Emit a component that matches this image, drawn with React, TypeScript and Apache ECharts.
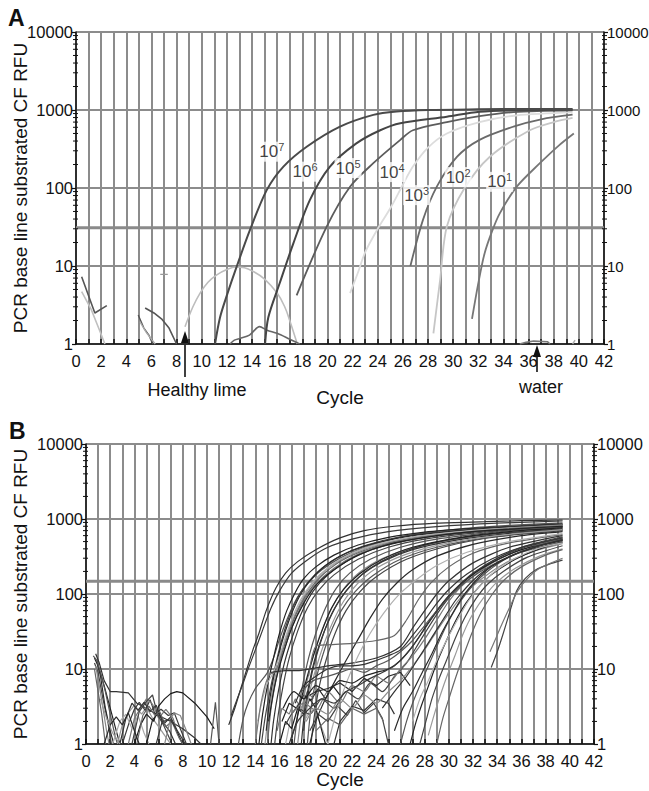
import React, { useEffect, useRef } from 'react';
import * as echarts from 'echarts';

const FONT = '"Liberation Sans", Arial, sans-serif';

// ---------- Panel A data (cycle, RFU) ----------
const A_1e7 = [[11.06,1],[11.46,2.2],[12,4.2],[12.78,9.8],[13.84,29],[15.17,94],[16.5,188],[18.35,338],[21,612],[23.65,866],[25.5,955],[28,1000],[32,1020],[36,1030],[39.5,1030]];
const A_1e6 = [[15.04,1],[15.3,2.2],[16.2,6],[17.29,19.5],[18.6,70],[20.2,188],[22.3,373],[24.2,550],[25.8,676],[29.5,820],[32.1,950],[35,990],[39.5,1010]];
const A_1e5 = [[17.55,4.2],[19.94,32],[21.8,104],[23.65,208],[25.8,414],[26.8,550],[29.5,700],[32.1,835],[34.8,940],[39.5,990]];
const A_1e4 = [[21.8,4.5],[22.4,8],[23,15],[24,30],[25,55],[26,110],[26.8,188],[28,330],[29.5,500],[32.1,700],[35,850],[39.5,930]];
const A_1e3 = [[26.6,10],[27.6,39],[28.7,104],[30.3,250],[32.1,414],[34.8,612],[37,760],[39.5,870]];
const A_1e2 = [[28.43,1.37],[28.96,6.6],[29.5,32],[30.9,99],[32.9,250],[36.1,550],[38,700],[39.5,790]];
const A_1e1 = [[31.5,2.1],[32,6],[32.5,14.5],[33.1,28],[33.7,47],[35.06,104],[36.9,208],[38.4,350],[39.6,500]];
const A_noise1 = [[0.45,7.3],[1.5,2.5],[2.45,3.1]];
const A_noise2 = [[0.45,4.7],[1.2,2.8],[1.8,1.6],[2.3,1]];
const A_noise3 = [[4.95,2.35],[5.4,1.6],[5.8,1.3],[6.1,1]];
const A_noise4 = [[5.1,1.9],[5.6,1.4],[6.3,1]];
const A_noise5 = [[5.5,2.9],[6.2,2.5],[6.8,2.1],[7.4,1.6],[8,1]];
const A_noise6 = [[6.7,7.8],[7.3,7.8]];
const A_healthy = [[8.67,1.66],[9.3,3],[9.87,4.5],[10.5,6.2],[11.2,7.7],[12,9],[12.7,9.7],[13.4,9.5],[14.1,8.5],[15,6.8],[16,4.5],[16.6,3],[17,2],[17.6,1]];
const A_bump = [[12.25,1],[12.6,1.12],[13.05,1.18],[13.8,1.3],[14.6,1.67],[15.2,1.5],[16,1.37],[17,1.15],[17.8,1]];
const A_water = [[35.3,1],[35.8,1.05],[36.4,1.09],[37.5,1.07],[37.7,1]];
const A_tiny = [[39.5,1],[39.7,1.12]];
const A_threshold = 31;
const A_labels = [[15.57,292,'7'],[18.22,162,'6'],[21.64,180,'5'],[25.14,160,'4'],[27.1,81,'3'],[30.4,138,'2'],[33.7,120,'1']];

// ---------- Panel B data ----------
const B_noise = [
  [[0.7,14],[1,11],[1.5,6],[2,3],[2.5,1.5],[2.8,1]],
  [[0.7,12],[1,9],[1.4,4],[1.8,2],[2.1,1]],
  [[0.8,16],[1.1,12],[1.5,7],[2,5],[2.5,5],[3.5,4.8],[4.2,3.5],[5,3],[6,2.4],[7,2],[8,1.6],[9,1.2],[9.5,1]],
  [[0.7,10],[1,5],[1.3,2.5],[1.6,1]],
  [[0.9,13],[1.2,8],[1.6,3],[2,1.5],[2.3,1]],
  [[0.8,11],[1.1,6],[1.4,3],[1.7,1.5],[1.9,1]],
  [[0.6,15],[0.9,13],[1.2,9],[1.6,5],[2,2.5],[2.4,1.3],[2.6,1]],
  [[2.6,1],[3,1.8],[3.5,2.6],[4,3.3],[4.6,2.5],[5,3.1],[5.5,2.2],[6,1.7],[6.5,1.3],[7,1]],
  [[3,1],[3.6,2],[4,2.9],[4.4,3.6],[4.9,2.8],[5.3,3.9],[5.7,2.5],[6.2,2.9],[6.8,2.4],[7.3,2.6],[7.8,1.6],[8.3,1]],
  [[3.5,1],[4,2.2],[4.5,3],[5,4],[5.5,3.4],[6,2.2],[6.6,2.9],[7.2,2.2],[7.7,1.2],[8,1]],
  [[2.2,1],[2.8,2],[3.3,2.5],[3.8,1.6],[4.3,2.4],[4.8,1.4],[5.2,1]],
  [[4,1],[4.5,1.8],[5,2.5],[5.6,2],[6,3.2],[6.5,4],[7,4.7],[7.5,5],[8,4.8],[9,3.5],[10,2.3],[10.6,1.6]],
  [[5,1],[5.5,2.1],[6,2.6],[6.5,1.9],[7,2.3],[7.5,1.5],[8,1]],
  [[3.8,1],[4.4,2.7],[5,3.7],[5.5,4.5],[5.9,2.5],[6.4,1.8],[7,1.1]],
  [[2.8,1],[3.3,2.2],[3.8,3.5],[4.3,2.8],[4.8,3.6],[5.3,2.7],[5.8,3.3],[6.3,2],[6.9,1.5],[7.4,1]],
  [[4.2,1],[4.7,2.4],[5.2,3.2],[5.7,2.4],[6.1,2.7],[6.6,1.7],[7.1,2],[7.6,1.3],[8,1]],
  [[1.5,1],[2,1.8],[2.5,2.3],[3,1.8],[3.5,2.6],[4,1.5],[4.4,1]],
  [[6.5,1],[7,2.2],[7.3,2.6],[7.8,2.4],[8.3,1.5],[8.7,1]],
  [[10.3,1],[10.7,3.6],[11,1]],
  [[1.2,4],[1.7,2.2],[2.2,1.4],[2.8,1]],
  [[5.8,1],[6.3,2],[7,2.1],[7.8,1.3],[8.2,1]],
  [[15.8,1.5],[16.2,3],[16.8,2.5],[17.3,4],[17.8,3],[18.3,5],[18.8,4]],
  [[16.5,1],[17,2.5],[17.6,3.5],[18.2,2.2],[18.8,3.5],[19.4,1.8],[20,1]],
  [[16,1],[16.5,2],[17,1.6],[17.5,3],[18,2.5],[18.5,4],[19,3],[19.5,1.5],[19.8,1]],
  [[16.2,2],[16.8,3.5],[17.4,3],[18,4.5],[18.6,3.8],[19.2,5.5],[19.8,4],[20.4,6],[21,4.5]],
  [[18.5,1.5],[19.2,2.5],[20,2],[20.8,3.2],[21.6,2.4],[22.3,3.8],[23,2.6],[23.8,3.5],[24.5,2.2],[25,1]],
  [[20.5,1],[21,2],[22,3.2],[23,2.8],[24,4],[25,3.5],[25.5,2.5]],
  [[19,1.5],[20,2.2],[21,1.8],[22,3],[23,2.5],[24,3],[24.6,2]],
  [[18,4],[19,5],[20,5.5],[21,6.5],[22,5],[23,7.5],[24,6],[25,8],[26,9],[26.8,6]],
];
const B_early = [
  [[11.8,1.8],[12.3,3],[12.8,5.5],[13.3,10],[13.8,18],[14.3,30],[14.9,60],[15.7,120],[16.5,190],[17.5,270],[19,390],[21,560],[23,700],[25.5,800],[29,880],[33,920],[36,950],[39.4,970]],
  [[12,2.4],[12.5,4],[13,6.5],[13.5,11],[14,18],[14.6,33],[15.3,65],[16,110],[17,190],[18.5,300],[20,420],[22,540],[25,680],[29,790],[34,880],[39.4,940]],
  [[12.6,1],[13,2.2],[13.4,3.5],[14,5.5],[14.5,7],[15,9],[15.5,14],[16,25],[16.6,45],[17.3,80],[18,120],[19.5,210],[21.5,330],[24,470],[27,620],[31,740],[35,820],[39.4,890]],
];
const B_main = [
  [[14.3,1],[14.6,2.5],[15,6],[15.5,14],[16,30],[16.6,60],[17.3,105],[18,160],[19,230],[20.5,330],[22.5,450],[25,570],[28,670],[32,750],[36,810],[39.4,860]],
  [[14.5,1],[14.8,2.2],[15.2,5],[15.6,10],[16.1,22],[16.8,50],[17.5,90],[18.3,140],[19.5,220],[21,320],[23,440],[26,580],[30,690],[34,770],[39.4,850]],
  [[14.8,1],[15.1,2.5],[15.4,5],[15.8,10],[16.3,20],[17,42],[17.8,80],[18.7,135],[20,220],[22,340],[24.5,470],[28,600],[32,700],[36,770],[39.4,820]],
  [[14.9,1.5],[15.2,4],[15.6,9],[16.1,20],[16.8,45],[17.6,90],[18.5,150],[19.8,240],[21.5,350],[24,480],[27,600],[31,700],[35,780],[39.4,840]],
  [[15,1],[15.3,3],[15.7,7],[16.2,16],[16.9,35],[17.7,70],[18.6,120],[19.8,195],[21.5,300],[24,430],[27,560],[31,670],[35,750],[39.4,810]],
  [[15.3,1],[15.5,2],[15.9,5],[16.4,12],[17.1,28],[17.9,60],[18.8,110],[20,180],[22,300],[24.5,430],[28,570],[32,670],[36,740],[39.4,790]],
  [[14.2,2],[14.6,4],[15,6.5],[15.5,9],[16,15],[16.6,30],[17.3,60],[18.2,110],[19.3,180],[21,290],[23,410],[26,540],[30,660],[35,760],[39.4,830]],
  [[15.6,1],[15.9,2.5],[16.3,6],[16.8,14],[17.5,32],[18.3,65],[19.2,110],[20.5,180],[22.5,290],[25,420],[28,540],[32,650],[36,730],[39.4,790]],
  [[14,1],[14.4,3],[14.8,6],[15.2,8.5],[15.6,9],[16.2,15],[17,35],[17.9,75],[18.9,130],[20.5,220],[22.5,340],[25,470],[29,610],[34,730],[39.4,820]],
  [[15.1,2],[15.6,6],[16.2,14],[17,35],[18,75],[19,130],[20.5,210],[22.5,330],[25,460],[29,600],[33,700],[39.4,800]],
];
const B_second = [
  [[17.2,1],[17.5,2.5],[17.9,6],[18.4,14],[19,30],[19.8,65],[20.7,120],[21.8,190],[23.5,290],[26,420],[29,540],[33,650],[36.5,720],[39.4,770]],
  [[17.5,1],[17.8,2.5],[18.2,6],[18.7,13],[19.3,27],[20.1,55],[21,100],[22.2,170],[24,270],[26.5,390],[30,520],[34,640],[39.4,740]],
  [[17.8,1],[18.1,3],[18.5,7],[19,15],[19.7,32],[20.5,62],[21.5,110],[22.8,180],[24.5,270],[27,390],[30.5,520],[34.5,630],[39.4,720]],
  [[18,1.5],[18.3,4],[18.7,9],[19.2,18],[19.9,38],[20.8,75],[21.9,130],[23.3,210],[25.5,330],[28.5,470],[32,590],[36,680],[39.4,740]],
  [[18.3,1],[18.6,3],[19,7],[19.5,14],[20.2,30],[21.1,60],[22.2,105],[23.7,175],[26,290],[29,420],[33,560],[37,660],[39.4,710]],
  [[17,1.2],[17.4,2],[17.8,4],[18.3,8],[18.8,15],[19.5,32],[20.3,65],[21.3,115],[22.6,185],[24.5,290],[27,420],[31,570],[35,680],[39.4,760]],
  [[18.6,1],[18.9,2.5],[19.3,6],[19.9,14],[20.6,30],[21.5,60],[22.6,105],[24,170],[26.5,290],[30,440],[34,580],[39.4,700]],
  [[18.1,2],[18.5,5],[19,10],[19.6,20],[20.4,42],[21.3,80],[22.4,135],[24,220],[26.5,340],[30,480],[34,600],[39.4,720]],
];
const B_mid = [
  [[18.5,1],[19,2],[19.8,4],[20.6,7],[21.5,13],[22.5,25],[23.5,48],[24.5,85],[25.7,140],[27,210],[29,320],[32,460],[36,600],[39.4,680]],
  [[18.4,8],[19,20],[20,21],[22,22],[24,24],[25.5,28],[26.5,45],[27.5,85],[28.5,140],[30,230],[32,350],[35,480],[39.4,620]],
  [[15.3,9],[16.5,9.5],[17.5,9.5],[18.5,10],[20,11],[22,12],[24,14],[26,20],[27,35],[28,60],[29,100],[30,150],[32,260],[35,420],[39.4,600]],
  [[20,1],[20.8,3],[21.6,7],[22.5,15],[23.5,30],[24.6,55],[25.8,95],[27.2,150],[29,240],[31.5,360],[35,500],[39.4,640]],
];
const B_flat = [
  [[16.5,1.8],[17.5,3],[18.5,2.5],[19.5,4],[20.5,3],[21.5,5],[22.5,4],[23.5,6.5],[24.5,5],[25.5,8],[26.5,12],[27.5,22],[28.5,40],[29.5,70],[30.5,110],[31.7,170],[33,240],[35,360],[37,470],[39.4,580]],
  [[17,2.5],[18,3.5],[19,2.8],[20,5],[21,3.5],[22,6],[23,5],[24,8],[25,6.5],[26,10],[27,15],[28,25],[29,45],[30,80],[31,125],[32.5,200],[34.5,310],[37,440],[39.4,540]],
  [[16.3,3],[17.2,5],[18,4],[19,6],[20,5],[21,7],[22,6.5],[23,8],[24,9],[25,10],[26,13],[27,20],[28,35],[29,60],[30,95],[31.5,160],[33.5,260],[36,390],[39.4,520]],
  [[17.8,5],[18.8,7],[20,8],[21,9],[22,10],[23,9],[24,11],[25,13],[26,17],[27,24],[28,38],[29,60],[30,90],[31.5,150],[33.5,240],[36,360],[39.4,500]],
  [[18.2,2],[19,3],[20,2.5],[21,4],[22,3],[23,4.5],[24,3.5],[25,5],[26,7],[27,11],[28,18],[29,32],[30,55],[31,90],[32.5,150],[34.5,250],[37,370],[39.4,470]],
  [[17.3,3.5],[18,6],[19,8],[20,10],[21,11],[22,11],[23,11.5],[24,13],[25,15],[26,18],[27,28],[28,45],[29,75],[30,115],[31.5,185],[33.5,290],[36,420],[39.4,560]],
  [[16.8,1],[17.5,2],[18.5,3],[19.5,4],[20.5,3.5],[21.5,5],[22.5,6],[23.5,7.5],[24.5,9],[25.5,11],[26.5,16],[27.5,26],[28.5,45],[29.5,75],[30.5,115],[32,190],[34,300],[36.5,430],[39.4,560]],
];
const B_late = [
  [[26,1],[26.5,2],[27,3.5],[27.6,6],[28.3,11],[29,20],[29.8,38],[30.6,65],[31.5,105],[32.5,160],[34,250],[36,370],[39.4,540]],
  [[26.8,1],[27.3,2],[27.8,3.5],[28.4,6.5],[29,12],[29.7,22],[30.5,42],[31.4,75],[32.4,120],[33.5,180],[35.5,290],[37.5,400],[39.4,490]],
  [[27.6,1],[28.1,2],[28.6,4],[29.2,7.5],[29.8,13],[30.5,25],[31.3,48],[32.2,85],[33.2,135],[34.5,200],[36.5,310],[39.4,440]],
  [[28.3,1.3],[28.8,2.5],[29.3,4.5],[29.9,8.5],[30.5,15],[31.2,30],[32,55],[33,95],[34,145],[35.5,220],[37.5,320],[39.4,400]],
  [[25.5,1.5],[26.2,3],[27,5],[27.8,9],[28.6,16],[29.4,30],[30.3,55],[31.2,95],[32.2,150],[33.5,230],[35.5,340],[38,460],[39.4,520]],
  [[29,1],[29.5,2.2],[30,4],[30.6,8],[31.2,15],[31.9,30],[32.7,58],[33.6,100],[34.6,155],[36,230],[38,330],[39.4,390]],
  [[24.5,3],[25.5,5],[26.5,8],[27.5,14],[28.5,25],[29.5,45],[30.5,80],[31.5,125],[32.7,190],[34.5,290],[37,420],[39.4,530]],
  [[27,2],[27.6,4],[28.3,7],[29,13],[29.8,24],[30.7,45],[31.6,80],[32.6,130],[33.8,200],[35.5,300],[37.5,410],[39.4,480]],
  [[33.5,10.5],[34,17],[34.5,30],[35,55],[35.6,110],[36.3,160],[37.2,210],[38.3,250],[39.4,283]],
  [[33.4,17],[33.9,26],[34.4,40],[35,65],[35.7,110],[36.5,160],[37.5,220],[39.4,300]],
];
const B_threshold = 148;

const minorTickValues: number[] = [];
[1, 10, 100, 1000].forEach((d) => { for (let k = 2; k <= 9; k++) minorTickValues.push(k * d); });

const NOISE_GRAYS = ['#222', '#444', '#333', '#666', '#2a2a2a', '#888', '#555', '#999', '#3a3a3a', '#777', '#aaa', '#1a1a1a'];
const CURVE_GRAYS = ['#333', '#3a3a3a', '#555', '#222', '#444', '#999', '#2a2a2a', '#666', '#333', '#b0b0b0', '#444', '#777', '#222', '#555', '#8a8a8a'];

function yAxis(gridIndex: number, position: 'left' | 'right', fontSize: number, name?: string, nameGap?: number) {
  return {
    type: 'log', logBase: 10, min: 1, max: 10000, gridIndex, position,
    name: name || '', nameLocation: 'middle', nameGap: nameGap || 0, nameMoveOverlap: false,
    nameTextStyle: { fontSize: 19, color: '#111', fontFamily: FONT },
    axisLine: { show: true, lineStyle: { color: '#111', width: 1.5 } },
    axisTick: { show: true, length: 4, lineStyle: { color: '#111', width: 1.2 } },
    axisLabel: { fontSize, color: '#111', margin: 3, fontFamily: FONT, formatter: (v: number) => String(Math.round(v)) },
    splitLine: { show: position === 'left', lineStyle: { color: '#8c8c8c', width: 2 } },
  };
}

function xAxis(gridIndex: number, nameGap: number) {
  return {
    type: 'value', min: 0, max: 42, interval: 1, gridIndex,
    name: 'Cycle', nameLocation: 'middle', nameGap, nameMoveOverlap: false,
    nameTextStyle: { fontSize: 19, color: '#111', fontFamily: FONT },
    axisLine: { show: true, lineStyle: { color: '#111', width: 1.5 } },
    axisTick: { show: true, inside: true, length: 5, lineStyle: { color: '#111', width: 1.5 } },
    axisLabel: { fontSize: 16.5, color: '#111', margin: 8, fontFamily: FONT, formatter: (v: number) => (v % 2 === 0 ? String(v) : '') },
    splitLine: { show: true, lineStyle: { color: '#8c8c8c', width: 2 } },
  };
}

function minorTicks(idx: number) {
  return {
    type: 'custom', xAxisIndex: idx, yAxisIndex: idx * 2, silent: true, clip: false, z: 5,
    data: minorTickValues.map((v) => [0, v]),
    renderItem: (_p: any, api: any) => {
      const v = api.value(1);
      const l = api.coord([0, v]);
      const r = api.coord([42, v]);
      const st = { stroke: '#111', lineWidth: 1 };
      return {
        type: 'group',
        children: [
          { type: 'line', shape: { x1: l[0] - 3, y1: l[1], x2: l[0] + 2, y2: l[1] }, style: st },
          { type: 'line', shape: { x1: r[0] - 2, y1: r[1], x2: r[0] + 3, y2: r[1] }, style: st },
        ],
      };
    },
  };
}

function line(data: number[][], color: string, width: number, xi: number, smooth: number | boolean = false) {
  return {
    type: 'line', data, xAxisIndex: xi, yAxisIndex: xi * 2, showSymbol: false, symbol: 'none',
    smooth, silent: true, z: 3,
    lineStyle: { color, width },
  };
}

export default function App() {
  const ref = useRef<HTMLDivElement>(null);
  useEffect(() => {
    if (!ref.current) return;
    const chart = echarts.init(ref.current, null, { renderer: 'svg' });
    const series: any[] = [];
    series.push(line([[0, A_threshold], [42, A_threshold]], '#8a8a8a', 3, 0));
    series.push(line([[0, B_threshold], [42, B_threshold]], '#8a8a8a', 3, 1));
    series.push(line(A_noise1, '#555', 1.6, 0));
    series.push(line(A_noise2, '#c0c0c0', 1.6, 0));
    series.push(line(A_noise3, '#555', 1.4, 0));
    series.push(line(A_noise4, '#aaa', 1.4, 0));
    series.push(line(A_noise5, '#555', 1.6, 0));
    series.push(line(A_noise6, '#999', 1.4, 0));
    series.push(line(A_healthy, '#bdbdbd', 1.6, 0, 0.4));
    series.push(line(A_bump, '#666', 1.6, 0, 0.3));
    series.push(line(A_water, '#777', 1.6, 0));
    series.push(line(A_tiny, '#aaa', 1.4, 0));
    series.push(line(A_1e4, '#dcdcdc', 1.8, 0, 0.3));
    series.push(line(A_1e2, '#c6c6c6', 1.8, 0, 0.3));
    series.push(line(A_1e1, '#777', 1.8, 0, 0.3));
    series.push(line(A_1e3, '#6a6a6a', 1.8, 0, 0.3));
    series.push(line(A_1e5, '#5c5c5c', 1.8, 0, 0.3));
    series.push(line(A_1e6, '#454545', 2, 0, 0.3));
    series.push(line(A_1e7, '#4a4a4a', 2, 0, 0.3));
    series.push({
      type: 'scatter', xAxisIndex: 0, yAxisIndex: 0, symbolSize: 1, silent: true, z: 10,
      itemStyle: { color: 'transparent' },
      data: A_labels.map((d) => ({ value: [d[0], d[1]], exp: d[2] })),
      label: {
        show: true, position: 'inside', backgroundColor: '#fff', padding: [0, 1],
        formatter: (p: any) => `{b|10}{s|${p.data.exp}}`,
        rich: {
          b: { fontSize: 17, color: '#111', fontFamily: FONT, lineHeight: 20 },
          s: { fontSize: 11, color: '#111', fontFamily: FONT, verticalAlign: 'top', lineHeight: 12 },
        },
      },
    });
    B_noise.forEach((c, i) => series.push(line(c, NOISE_GRAYS[i % NOISE_GRAYS.length], 1.2, 1)));
    const groups = [B_early, B_main, B_second, B_mid, B_flat, B_late];
    let k = 0;
    groups.forEach((g) => {
      g.forEach((c) => {
        series.push(line(c, CURVE_GRAYS[k % CURVE_GRAYS.length], 1.2, 1, 0.25));
        k++;
      });
    });
    series.push(minorTicks(0));
    series.push(minorTicks(1));

    const arrow = (x: number, yTip: number, yEnd: number) => ({
      type: 'group',
      children: [
        { type: 'line', shape: { x1: x, y1: yTip + 8, x2: x, y2: yEnd }, style: { stroke: '#111', lineWidth: 1.6 } },
        { type: 'polygon', shape: { points: [[x, yTip], [x - 4, yTip + 12], [x + 4, yTip + 12]] }, style: { fill: '#111' } },
      ],
    });

    chart.setOption({
      animation: false,
      backgroundColor: '#fff',
      grid: [
        { left: 76, top: 32, width: 528, height: 312, outerBoundsMode: 'none', containLabel: false },
        { left: 86, top: 444, width: 508, height: 300, outerBoundsMode: 'none', containLabel: false },
      ],
      xAxis: [xAxis(0, 44), xAxis(1, 26)],
      yAxis: [
        yAxis(0, 'left', 16.5, 'PCR base line substrated CF RFU', 46),
        yAxis(0, 'right', 15),
        yAxis(1, 'left', 16.5, 'PCR base line substrated CF RFU', 56),
        yAxis(1, 'right', 16.5),
      ],
      graphic: [
        { type: 'text', left: 8, top: 6, style: { text: 'A', font: `bold 23px ${FONT}`, fill: '#111' } },
        { type: 'text', left: 9, top: 419, style: { text: 'B', font: `bold 23px ${FONT}`, fill: '#111' } },
        { type: 'text', x: 197, y: 390, style: { text: 'Healthy lime', font: `18px ${FONT}`, fill: '#111', align: 'center', verticalAlign: 'middle' } },
        { type: 'text', x: 541, y: 387, style: { text: 'water', font: `18px ${FONT}`, fill: '#111', align: 'center', verticalAlign: 'middle' } },
        arrow(185, 331, 377),
        arrow(537, 345, 372),
      ],
      series,
    });
    return () => chart.dispose();
  }, []);
  return <div ref={ref} style={{ position: 'fixed', left: 0, top: 0, width: 649, height: 791, background: '#fff' }} />;
}
